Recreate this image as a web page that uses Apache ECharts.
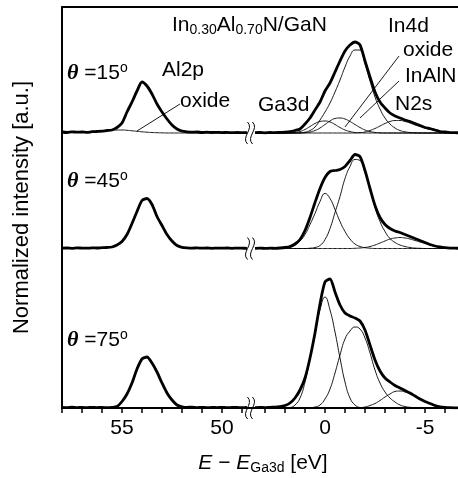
<!DOCTYPE html>
<html><head><meta charset="utf-8">
<script src="https://cdn.jsdelivr.net/npm/echarts@6/dist/echarts.min.js"></script>
<style>html,body{margin:0;padding:0;background:#fff}#c{width:458px;height:478px}</style>
</head><body><div id="c"></div>
<script>
// Energy grids (E - E_Ga3d, eV)
const eLeft = [58,57.75,57.5,57.25,57,56.75,56.5,56.25,56,55.75,55.5,55.25,55,54.75,54.5,54.25,54,53.75,53.5,53.25,53,52.75,52.5,52.25,52,51.75,51.5,51.25,51,50.75,50.5,50.25,50,49.75,49.5,49.25,49,48.75];
const eRight = [3.5,3.25,3,2.75,2.5,2.25,2,1.75,1.5,1.25,1,0.75,0.5,0.25,0,-0.25,-0.5,-0.75,-1,-1.25,-1.5,-1.75,-2,-2.25,-2.5,-2.75,-3,-3.25,-3.5,-3.75,-4,-4.25,-4.5,-4.75,-5,-5.25,-5.5,-5.75,-6,-6.25,-6.5,-6.75];

// vertical offsets of the three spectra (theta = 15, 45, 75 deg)
const offsets = [275, 159.5, 0];
const angles = ['15', '45', '75'];

// Al2p region (measured)
const al2p15 = [1,0.5,1.2,0.8,1,0.6,1.3,1.5,1.8,2.5,3,5.5,10,21,31,42,51,47,39,29,21,14,8,4,2,1.2,0.8,1,0.5,0.8,0.5,0.7,0.4,0.6,0.3,0.5,0.4,0.3];
const al2pOxide15 = [0.3,0.4,0.6,0.8,1.0,1.3,1.6,1.9,2.3,2.6,2.9,3.0,3.0,2.7,2.2,1.7,1.2,0.8,0.5,0.3,0.15,0.05,0,0,0,0,0,0,0,0,0,0,0,0,0,0,0,0];
const al2p45 = [0.3,0.5,0.2,0.6,0.4,0.3,0.6,0.5,0.8,1.0,1.5,3.5,7,14,25,37,48,50,44,32,23,14,7.5,3,1.2,0.6,0.4,0.6,0.3,0.5,0.2,0.4,0.3,0.5,0.2,0.4,0.3,0.2];
const al2p75 = [0.5,0.3,0.8,0.4,0.6,0.3,0.7,0.4,0.6,0.3,0.6,1.5,6.5,14,25,39,49,51,45,36,25,15,8,3,1.2,0.6,0.9,0.4,0.7,0.3,0.6,0.4,0.7,0.3,0.5,0.6,0.3,0.5];

// Ga3d / In4d / N2s region (measured)
const total15 = [0.3,0.5,0.2,0.5,0.4,0.6,0.8,1.3,2.5,4,9,15,23,31,42,50,61,72,82,88,91,88,72,56,41,31,25,20,17,15,13,11.5,9.5,7.5,5.5,4.5,3,1.5,1,0.4,0.3,0.2];
const ga3d15 = [0,0,0,0,0,0,0,0,0.5,1.5,3.5,6.5,9.5,11.5,12,11,8.5,5.5,3,1.5,0.5,0.2,0,0,0,0,0,0,0,0,0,0,0,0,0,0,0,0,0,0,0,0];
const in4dOxide15 = [0,0,0,0,0,0,0,0,0,0,0.3,1,2.5,5,8.5,12,14.5,15,14,11.5,8.5,5.5,3,1.5,0.6,0.2,0,0,0,0,0,0,0,0,0,0,0,0,0,0,0,0];
const in4dInAlN15 = [0,0,0,0,0,0,0,0,0,0.2,0.8,2.5,6,13,21,30,41,53,66,77,83,83,69,52,36,24,15,9,5,2.5,1.2,0.5,0.2,0,0,0,0,0,0,0,0,0];
const n2s15 = [0,0,0,0,0,0,0,0,0,0,0,0,0,0,0,0,0,0,0,0,0,0.3,1,2.5,4.5,7,9.5,11.5,12.5,12.5,11.5,10,8,6.5,5,3.5,2.5,1.5,0.8,0.4,0.2,0.1];

const total45 = [0.2,0.4,0.1,0.3,0.2,0.5,1,2,4.5,9,18,31,46,60,71,77,78,79,82,88,94,92,78,60,43,31,24,20,17.5,16,14,12,10,8,6,4,2.5,1.5,0.8,0.4,0.3,0.2];
const ga3d45 = [0,0,0,0,0,0,0.3,1,3.5,7.5,14,24,35,47,55,50,39,27,17,9.5,4.5,2,0.8,0.3,0,0,0,0,0,0,0,0,0,0,0,0,0,0,0,0,0,0];
const in4dInAlN45 = [0,0,0,0,0,0,0,0,0,0,0,0.3,1,3,9,20,36,52,70,82,89,88,76,61,41,27,17,10,6,3.5,2,1,0.4,0.2,0,0,0,0,0,0,0,0];
const n2s45 = [0,0,0,0,0,0,0,0,0,0,0,0,0,0,0,0,0,0,0,0,0.2,0.5,1,2,3.5,5.5,7.5,9.5,10.5,11,10.5,9.5,8,6.5,5,3.5,2.3,1.4,0.7,0.3,0.1,0];

const total75 = [0.3,0.6,0.4,0.7,0.8,1.3,2.5,5,10,18,30,50,75,104,126,129,116,103,95,92,90,87,78,63,48,37,30,26,22.5,20,17.5,15,12,9,6.5,4.5,2.5,1.2,0.6,0.3,0.2,0.1];
const ga3d75 = [0,0,0,0,0,0,0,0.5,3,10,26,50,76,98,111,98,76,50,26,10,3,0.5,0,0,0,0,0,0,0,0,0,0,0,0,0,0,0,0,0,0,0,0];
const in4dInAlN75 = [0,0,0,0,0,0,0,0,0,0,0,0.3,1,3,9,19,35,53,69,77,81,79,70,55,38,25,16,10,6,3,1.5,0.7,0.3,0.1,0,0,0,0,0,0,0,0];
const n2s75 = [0,0,0,0,0,0,0,0,0,0,0,0,0,0,0,0,0,0,0,0,0,0.3,1,2.5,4.5,7.5,11,14,16.5,17,16,14,11.5,9,6.5,4.5,2.8,1.6,0.8,0.4,0.2,0];

// Axis ticks / labels
const leftTicks = [58,57,56,55,54,53,52,51,50,49];
const leftLabels = [55,50];
const rightTicks = [3,2,1,0,-1,-2,-3,-4,-5,-6];
const rightLabels = [0,-5];

const FONT = "'Liberation Sans', Arial, sans-serif";
const chart = echarts.init(document.getElementById('c'), null, {renderer:'canvas'});

function pts(es, vs, off){ return es.map((e,i)=>[e, vs[i]+off]); }
function line(grid, es, vs, off, thick){
  return {type:'line', xAxisIndex:grid, yAxisIndex:grid, data:pts(es,vs,off), symbol:'none',
    smooth: thick ? 0.25 : 0.5, z: thick ? 5 : 3, silent:true,
    lineStyle:{color:'#000', width: thick ? 2.8 : 0.9}};
}

const series = [
  line(0, eLeft, al2pOxide15, offsets[0], false),
  line(0, eLeft, al2p15, offsets[0], true),
  line(0, eLeft, al2p45, offsets[1], true),
  line(0, eLeft, al2p75, offsets[2], true),
  line(1, eRight, ga3d15, offsets[0], false),
  line(1, eRight, in4dOxide15, offsets[0], false),
  line(1, eRight, in4dInAlN15, offsets[0], false),
  line(1, eRight, n2s15, offsets[0], false),
  line(1, eRight, total15, offsets[0], true),
  line(1, eRight, ga3d45, offsets[1], false),
  line(1, eRight, in4dInAlN45, offsets[1], false),
  line(1, eRight, n2s45, offsets[1], false),
  line(1, eRight, total45, offsets[1], true),
  line(1, eRight, ga3d75, offsets[2], false),
  line(1, eRight, in4dInAlN75, offsets[2], false),
  line(1, eRight, n2s75, offsets[2], false),
  line(1, eRight, total75, offsets[2], true)
];

const axBlack = {color:'#000', width:2};
function bottomAxis(grid, min, max, ticks, labels){
  return {type:'value', gridIndex:grid, min:min, max:max, inverse:true, position:'bottom',
    axisLine:{show:true, lineStyle:axBlack},
    axisTick:{show:true, customValues:ticks, length:5, inside:false, lineStyle:{color:'#000', width:1.5}},
    axisLabel:{show:true, customValues:labels, fontSize:21, color:'#000', fontFamily:FONT, margin:10},
    splitLine:{show:false}};
}
function topAxis(grid, min, max){
  return {type:'value', gridIndex:grid, min:min, max:max, inverse:true, position:'top',
    axisLine:{show:true, lineStyle:axBlack}, axisTick:{show:false}, axisLabel:{show:false}, splitLine:{show:false}};
}

const option = {
  animation:false,
  backgroundColor:'#fff',
  grid:[{left:62, top:7, width:188, height:401}, {left:250, top:7, width:208, height:401}],
  xAxis:[
    bottomAxis(0, 48.6, 58, leftTicks, leftLabels),
    bottomAxis(1, -6.65, 3.75, rightTicks, rightLabels),
    topAxis(0, 48.6, 58),
    topAxis(1, -6.65, 3.75)
  ],
  yAxis:[
    {type:'value', gridIndex:0, min:0, max:401, axisLine:{show:true, lineStyle:axBlack}, axisTick:{show:false}, axisLabel:{show:false}, splitLine:{show:false},
     name:'Normalized intensity [a.u.]', nameLocation:'middle', nameGap:29, nameTextStyle:{fontSize:22, color:'#000', fontFamily:FONT}},
    {type:'value', gridIndex:1, min:0, max:401, show:false}
  ],
  series: series
};
chart.setOption(option);

// annotations
const T = (x, y, text, rich, align) => ({type:'text', x:x, y:y, z:20, silent:true,
  style:{text:text, fill:'#000', fontSize:21, fontFamily:FONT, align:align||'left', verticalAlign:'middle', rich:rich}});
const mainRich = {
  m:{fontSize:21, fontFamily:FONT, fill:'#000', lineHeight:24},
  s:{fontSize:14, fontFamily:FONT, fill:'#000', verticalAlign:'bottom'},
  sup:{fontSize:14, fontFamily:FONT, fill:'#000', verticalAlign:'top'},
  th:{fontSize:22, fontFamily:"'Liberation Serif', 'DejaVu Serif', serif", fontStyle:'italic', fontWeight:'bold', fill:'#000', lineHeight:24},
  e:{fontSize:21, fontFamily:FONT, fontStyle:'italic', fill:'#000', lineHeight:24}
};
const thetaY = [73, 181, 340];
const graphics = [
  T(172, 25, '{m|In}{s|0.30}{m|Al}{s|0.70}{m|N/GaN}', mainRich),
  T(162, 70, 'Al2p'),
  T(180, 101, 'oxide'),
  T(258, 105, 'Ga3d'),
  T(388, 26, 'In4d'),
  T(403, 50, 'oxide'),
  T(405, 76, 'InAlN'),
  T(395, 104, 'N2s'),
  T(263, 463, '{e|E}{m| \u2212 }{e|E}{s|Ga3d}{m| [eV]}', mainRich, 'center')
];
angles.forEach((a,i)=>{
  graphics.push(T(67, thetaY[i], '{th|\u03b8}{m| =' + a + '}{sup|o}', mainRich));
});
// pointer lines
const ptr = [[137,131,180,104],[345,127,399,56],[360,118,399,81]];
ptr.forEach(p=>graphics.push({type:'line', silent:true, z:20, shape:{x1:p[0],y1:p[1],x2:p[2],y2:p[3]}, style:{stroke:'#000', lineWidth:0.9}}));
// axis break marks at each spectrum baseline
offsets.forEach(off=>{
  const y = chart.convertToPixel({yAxisIndex:0}, off);
  [247.5, 252.5].forEach(x=>{
    graphics.push({type:'bezierCurve', silent:true, z:21,
      shape:{x1:x, y1:y-11, x2:x, y2:y+11, cpx1:x+7, cpy1:y-4, cpx2:x-7, cpy2:y+4},
      style:{stroke:'#000', fill:null, lineWidth:1}});
  });
});
chart.setOption({graphic:graphics});
</script>
</body></html>
